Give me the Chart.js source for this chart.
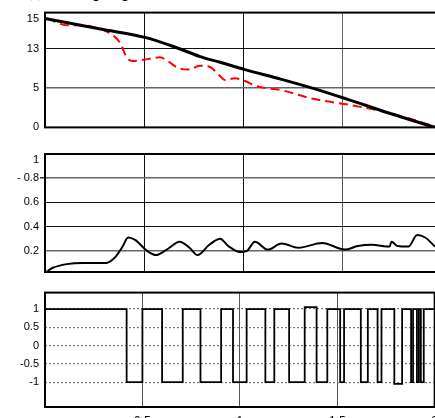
<!DOCTYPE html>
<html>
<head>
<meta charset="utf-8">
<script src="https://cdn.jsdelivr.net/npm/chart.js@4"></script>
<style>
  html, body { margin: 0; padding: 0; background: #fff; overflow: hidden; width: 435px; height: 418px; }
  .panel { position: absolute; left: 0; }
  #title { position: absolute; left: 18px; top: -18px; font: bold 17px "Liberation Serif", serif; color: #000; white-space: nowrap; }
</style>
</head>
<body>
<div id="title">x(t) and input profile</div>
<canvas id="topChart" class="panel" width="445" height="140" style="top:0"></canvas>
<canvas id="midChart" class="panel" width="445" height="140" style="top:140px"></canvas>
<canvas id="botChart" class="panel" width="445" height="160" style="top:280px"></canvas>
<script>
// shared x axis
const xTickLabels = ['0.5', '1', '1.5', '2'];

// top panel: reference (solid black) and measured (dashed red)
const topTickValues = [0, 5, 13, 15];
const refX = [0, 0.28, 0.505, 0.68, 0.78, 0.88, 1.01, 1.19, 1.35, 1.525, 1.74, 1.97];
const refY = [15, 14.3, 13.75, 13.0, 11.46, 10.3, 8.76, 6.83, 5.0, 3.6, 1.8, 0];
const measX = [0.01, 0.11, 0.19, 0.26, 0.33, 0.38, 0.41, 0.44, 0.49, 0.58, 0.62, 0.68, 0.73, 0.78, 0.83, 0.88, 0.91, 0.96, 1.01, 1.06, 1.2, 1.36, 1.53, 1.7, 1.83, 1.97];
const measY = [15, 14.56, 14.56, 14.38, 14.0, 13.38, 11.46, 10.5, 10.7, 11.25, 10.5, 8.95, 8.76, 9.53, 9.34, 7.6, 6.64, 7.0, 6.44, 5.48, 4.7, 3.6, 2.9, 2.05, 1.2, 0.1];

// middle panel
const midTickLabels = ['0.2', '0.4', '0.6', '- 0.8', '1'];
const ratioX = [0.005, 0.04, 0.11, 0.19, 0.31, 0.35, 0.39, 0.42, 0.455, 0.515, 0.56, 0.615, 0.68, 0.73, 0.77, 0.83, 0.885, 0.925, 0.985, 1.02, 1.06, 1.125, 1.195, 1.28, 1.4, 1.515, 1.58, 1.65, 1.74, 1.75, 1.78, 1.835, 1.88, 1.92, 1.97];
const ratioY = [0.025, 0.06, 0.09, 0.10, 0.10, 0.14, 0.23, 0.31, 0.29, 0.20, 0.165, 0.21, 0.275, 0.225, 0.165, 0.25, 0.30, 0.24, 0.19, 0.20, 0.275, 0.21, 0.26, 0.225, 0.265, 0.21, 0.24, 0.25, 0.235, 0.275, 0.24, 0.235, 0.33, 0.31, 0.235];

// bottom panel: switching signal
const botTickValues = [1, 0.5, 0, -0.5, -1];
const switchX = [0, 0.419, 0.5, 0.601, 0.707, 0.798, 0.904, 0.965, 1.035, 1.131, 1.177, 1.253, 1.333, 1.394, 1.449, 1.515, 1.535, 1.621, 1.657, 1.707, 1.727, 1.793, 1.833, 1.879, 1.889, 1.909, 1.919, 1.929, 1.944, 2.0];
const switchLevel = [1, -1, 1, -1, 1, -1, 1, -1, 1, -1, 1, -1, 1.05, -1, 1, -1, 1, -1, 1, -1, 1, -1.05, 1, -1, 1, -1, 1, -1, 1];

Chart.defaults.font.family = '"Liberation Sans", Arial, sans-serif';
Chart.defaults.font.size = 11;
Chart.defaults.color = '#000';
Chart.defaults.animation = false;
Chart.defaults.devicePixelRatio = 1;

// top axis is not linear: tick values sit at fixed slots
const topTickPos = [0, 1, 2, 2.77];
function toTopPos(v) {
  for (let i = 1; i < topTickValues.length; i++) {
    if (v <= topTickValues[i]) {
      const a = topTickValues[i - 1], b = topTickValues[i];
      return topTickPos[i - 1] + (v - a) / (b - a) * (topTickPos[i] - topTickPos[i - 1]);
    }
  }
  return topTickPos[topTickPos.length - 1];
}

const frame = {
  id: 'frame',
  afterDraw(chart) {
    const { ctx, chartArea: a } = chart;
    ctx.save();
    ctx.strokeStyle = '#000';
    ctx.lineWidth = 2;
    ctx.strokeRect(a.left, a.top, a.right - a.left, a.bottom - a.top);
    ctx.restore();
  }
};

function xScale(showLabels, gridColor) {
  return {
    type: 'linear', min: 0, max: 2,
    afterBuildTicks: s => { s.ticks = [0.5, 1, 1.5, 2].map(v => ({ value: v })); },
    ticks: {
      display: showLabels, padding: 7, autoSkip: false, maxRotation: 0,
      font: { size: 12 },
      callback: (v, i) => xTickLabels[i]
    },
    grid: { color: gridColor, lineWidth: 1, drawTicks: false },
    border: { display: false },
    afterFit: s => { s.height = showLabels ? 20 : 0; }
  };
}

function yFit(s) { s.width = 45; }

new Chart(document.getElementById('topChart'), {
  type: 'line',
  data: {
    datasets: [
      {
        data: refX.map((x, i) => ({ x, y: toTopPos(refY[i]) })),
        borderColor: '#000', borderWidth: 3, pointRadius: 0,
        cubicInterpolationMode: 'monotone'
      },
      {
        data: measX.map((x, i) => ({ x, y: toTopPos(measY[i]) })),
        borderColor: '#ff0000', borderWidth: 2, borderDash: [9, 5], pointRadius: 0,
        cubicInterpolationMode: 'monotone'
      }
    ]
  },
  options: {
    responsive: false,
    layout: { padding: { top: 11, bottom: 8, right: 4, left: 0 } },
    plugins: { legend: { display: false }, tooltip: { enabled: false } },
    scales: {
      x: xScale(false, ctx => ctx.tick && ctx.tick.value === 1.5 ? '#666' : '#111'),
      y: {
        type: 'linear', min: 0, max: 2.92,
        afterBuildTicks: s => { s.ticks = topTickPos.map(v => ({ value: v })); },
        ticks: { padding: 6, callback: (v, i) => String(topTickValues[i]) },
        grid: {
          drawTicks: false,
          color: ctx => ctx.index === 3 ? 'rgba(0,0,0,0)' : (ctx.index === 1 ? '#666' : '#111'),
          lineWidth: ctx => ctx.index === 1 ? 1.5 : 1
        },
        border: { display: false },
        afterFit: yFit
      }
    }
  },
  plugins: [frame]
});

const midTickPos = [0.2, 0.4, 0.6, 0.8, 0.95];
new Chart(document.getElementById('midChart'), {
  type: 'line',
  data: {
    datasets: [{
      data: ratioX.map((x, i) => ({ x, y: ratioY[i] })),
      borderColor: '#000', borderWidth: 2, pointRadius: 0,
      cubicInterpolationMode: 'monotone'
    }]
  },
  options: {
    responsive: false,
    layout: { padding: { top: 14, bottom: 8, right: 4, left: 0 } },
    plugins: { legend: { display: false }, tooltip: { enabled: false } },
    scales: {
      x: xScale(false, ctx => ctx.tick && ctx.tick.value === 1.5 ? '#555' : '#111'),
      y: {
        type: 'linear', min: 0.025, max: 1,
        afterBuildTicks: s => { s.ticks = midTickPos.map(v => ({ value: v })); },
        ticks: { padding: 1, callback: (v, i) => midTickLabels[i] },
        grid: {
          tickLength: 5,
          tickColor: ctx => ctx.index === 3 ? '#333' : 'rgba(0,0,0,0)',
          color: ctx => ctx.index === 4 ? 'rgba(0,0,0,0)' : ((ctx.index === 0 || ctx.index === 3) ? '#666' : '#111'),
          lineWidth: ctx => (ctx.index === 0 || ctx.index === 3) ? 1.5 : 1
        },
        border: { display: false },
        afterFit: yFit
      }
    }
  },
  plugins: [frame]
});

// step edges: each level holds from one switch time to the next
const stepPoints = [];
switchLevel.forEach((lvl, i) => {
  stepPoints.push({ x: switchX[i], y: lvl });
  stepPoints.push({ x: switchX[i + 1], y: lvl });
});

new Chart(document.getElementById('botChart'), {
  type: 'line',
  data: {
    datasets: [{
      data: stepPoints,
      borderColor: '#000', borderWidth: 1.8, pointRadius: 0, tension: 0
    }]
  },
  options: {
    responsive: false,
    layout: { padding: { top: 8, bottom: 13, right: 4, left: 0 } },
    plugins: { legend: { display: false }, tooltip: { enabled: false } },
    scales: {
      x: xScale(true, '#555'),
      y: {
        type: 'linear', min: -1.68, max: 1.45,
        afterBuildTicks: s => { s.ticks = botTickValues.map(v => ({ value: v })); },
        ticks: { padding: 6, callback: (v, i) => String(botTickValues[i]) },
        grid: { drawTicks: false, color: '#777', lineWidth: 1.2 },
        border: { display: false, dash: [2, 2] },
        afterFit: yFit
      }
    }
  },
  plugins: [frame]
});
</script>
</body>
</html>
